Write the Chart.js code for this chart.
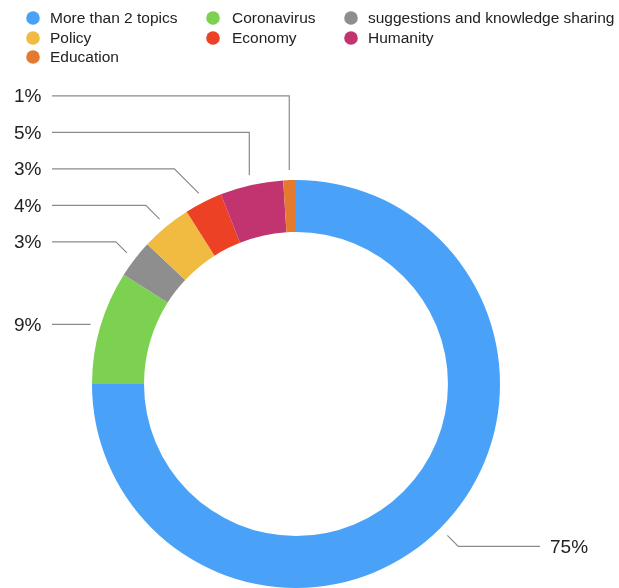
<!DOCTYPE html>
<html lang="en">
<head>
    <meta charset="UTF-8">
    <title>Topics</title>
    <script src="https://cdn.jsdelivr.net/npm/chart.js"></script>
    <style>
        body { margin: 0; background: #fff; }
        #wrap { width: 619px; height: 588px; }
    </style>
</head>
<body>
<div id="wrap">
    <canvas id="topicChart" width="619" height="588"></canvas>
</div>

<script>
    // Share of posts per topic (percent)
    const topics = ['More than 2 topics', 'Coronavirus', 'suggestions and knowledge sharing', 'Policy', 'Economy', 'Humanity', 'Education'];
    const shares = [75, 9, 3, 4, 3, 5, 1];
    const colors = ['#49a2f8', '#7dd150', '#8e8e8e', '#f0bb40', '#ec4124', '#c23470', '#e47a30'];

    const FONT = '"Liberation Sans", Arial, Helvetica, sans-serif';

    // legend laid out as a 3-column grid above the ring
    const legendGrid = {
        id: 'legendGrid',
        afterDraw(chart) {
            const ctx = chart.ctx;
            const dotX = [33, 213, 351];
            const textX = [50, 232, 368];
            const rowY = [18, 38, 57];
            ctx.save();
            ctx.font = '15.5px ' + FONT;
            ctx.textBaseline = 'middle';
            ctx.textAlign = 'left';
            chart.data.labels.forEach((label, i) => {
                const c = i % 3;
                const y = rowY[Math.floor(i / 3)];
                ctx.fillStyle = chart.data.datasets[0].backgroundColor[i];
                ctx.beginPath();
                ctx.arc(dotX[c], y, 6.8, 0, Math.PI * 2);
                ctx.fill();
                ctx.fillStyle = '#222';
                ctx.fillText(label, textX[c], y + 1);
            });
            ctx.restore();
        }
    };

    // percentage labels with elbow leader lines
    const leaders = {
        id: 'leaders',
        afterDraw(chart) {
            const ctx = chart.ctx;
            const meta = chart.getDatasetMeta(0);
            const values = chart.data.datasets[0].data;
            const items = meta.data.map((arc, i) => {
                const mid = (arc.startAngle + arc.endAngle) / 2;
                const r = arc.outerRadius + 10;
                const x = arc.x + Math.cos(mid) * r;
                const y = arc.y + Math.sin(mid) * r;
                const flat = Math.abs(Math.sin(mid)) < 0.34;
                const upright = Math.abs(Math.cos(mid)) < 0.34;
                const ly = flat ? y : y + (Math.sin(mid) < 0 ? -11 : 11);
                return { i, mid, x, y, ly, upright, left: Math.cos(mid) < 0 };
            });

            // stack left labels upward so they never crowd each other
            const left = items.filter(d => d.left).sort((a, b) => b.y - a.y);
            for (let k = 1; k < left.length; k++) {
                left[k].ly = Math.min(left[k].ly, left[k - 1].ly - 36.5);
            }

            ctx.save();
            ctx.strokeStyle = '#8a8a8a';
            ctx.lineWidth = 1.2;
            ctx.font = '19px ' + FONT;
            ctx.textBaseline = 'middle';
            ctx.fillStyle = '#222';
            items.forEach(d => {
                const dy = Math.abs(d.y - d.ly);
                let ex = d.x;
                if (!d.upright) ex = d.left ? d.x - dy : d.x + dy;
                ctx.beginPath();
                ctx.moveTo(d.x, d.y);
                ctx.lineTo(ex, d.ly);
                ctx.lineTo(d.left ? 52 : 540, d.ly);
                ctx.stroke();
                ctx.textAlign = 'left';
                ctx.fillText(values[d.i] + '%', d.left ? 14 : 550, d.ly + 1);
            });
            ctx.restore();
        }
    };

    new Chart(document.getElementById('topicChart'), {
        type: 'doughnut',
        data: {
            labels: topics,
            datasets: [{
                data: shares,
                backgroundColor: colors,
                borderWidth: 0,
                hoverOffset: 0
            }]
        },
        options: {
            responsive: false,
            animation: false,
            cutout: '74.5%',
            layout: { padding: { top: 180, left: 92, right: 119, bottom: 0 } },
            plugins: {
                legend: { display: false },
                tooltip: { enabled: false }
            },
            events: []
        },
        plugins: [legendGrid, leaders]
    });
</script>
</body>
</html>
